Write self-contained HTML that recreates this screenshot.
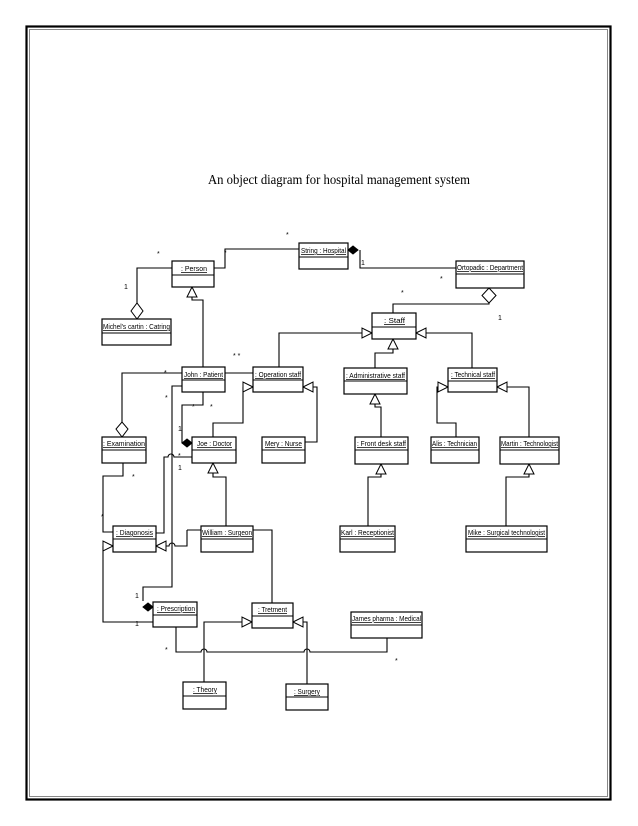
<!DOCTYPE html>
<html><head><meta charset="utf-8"><style>
html,body{margin:0;padding:0;background:#fff;width:638px;height:826px;overflow:hidden}
svg{display:block}
.b{fill:#fff;stroke:#000;stroke-width:1.2}
.l{fill:none;stroke:#000;stroke-width:1.1}
.t{fill:#fff;stroke:#000;stroke-width:1}
.d{fill:#000;stroke:#000;stroke-width:1}
.lb{font-family:"Liberation Sans",sans-serif;font-size:7.5px;text-decoration:underline;fill:#000}
.m{font-family:"Liberation Sans",sans-serif;font-size:7px;fill:#000}
</style></head><body>
<svg width="638" height="826" viewBox="0 0 638 826" xmlns="http://www.w3.org/2000/svg">
<rect x="26.5" y="26.5" width="584" height="773" fill="none" stroke="#000" stroke-width="2.2"/>
<rect x="29.5" y="29.5" width="578" height="767" fill="none" stroke="#888" stroke-width="1"/>
<text x="208" y="184" font-family="Liberation Serif,serif" font-size="14" textLength="262" lengthAdjust="spacingAndGlyphs">An object diagram for hospital management system</text>

<!-- connectors -->
<polyline class="l" points="214,268 225,268 225,249 299,249"/>
<polyline class="l" points="360,250 360,268 456,268"/>
<polyline class="l" points="137,303 137,268 172,268"/>
<polyline class="l" points="192,297 192,300 203,300 203,367"/>
<polyline class="l" points="225,373 253,373"/>
<polyline class="l" points="182,373 122,373 122,422"/>
<polyline class="l" points="279,367 279,333 362,333"/>
<polyline class="l" points="213,437 213,423 243,423 243,387"/>
<polyline class="l" points="305,442 317,442 317,387 313,387"/>
<polyline class="l" points="203,392 203,405 182,405 182,443"/>
<polyline class="l" points="182,386 172,386 172,587 143,587 143,601"/>
<path class="l" d="M192,457 L174,457 A3,3 0 0 0 168,457 L164,457 L164,533 L156,533"/>
<polyline class="l" points="123,463 123,476 103,476 103,532 113,532"/>
<polyline class="l" points="153,622 103,622 103,546"/>
<polyline class="l" points="187,530 272,530 272,603"/>
<path class="l" d="M187,530 L187,546 L175,546 A3,3 0 0 0 169,546 L166,546"/>
<polyline class="l" points="213,473 213,477 226,477 226,526"/>
<polyline class="l" points="204,682 204,622 242,622"/>
<polyline class="l" points="307,684 307,622 303,622"/>
<path class="l" d="M176,627 L176,652 L201,652 A3,3 0 0 1 207,652 L304,652 A3,3 0 0 1 310,652 L387,652 L387,638"/>
<polyline class="l" points="489,303 489,304 393,304 393,313"/>
<polyline class="l" points="426,333 472,333 472,368"/>
<polyline class="l" points="393,349 393,353 375,353 375,368"/>
<polyline class="l" points="375,404 375,407 381,407 381,437"/>
<polyline class="l" points="456,437 456,423 437,423 437,387 438,387"/>
<polyline class="l" points="529,437 529,387 507,387"/>
<polyline class="l" points="368,526 368,477 381,477 381,474"/>
<polyline class="l" points="506,526 506,477 529,477 529,474"/>

<!-- arrowheads -->
<polygon class="t" points="192,287 187,297 197,297"/>
<polygon class="t" points="372,333 362,328 362,338"/>
<polygon class="t" points="416,333 426,328 426,338"/>
<polygon class="t" points="393,339 388,349 398,349"/>
<polygon class="t" points="253,387 243,382 243,392"/>
<polygon class="t" points="303,387 313,382 313,392"/>
<polygon class="t" points="375,394 370,404 380,404"/>
<polygon class="t" points="448,387 438,382 438,392"/>
<polygon class="t" points="497,387 507,382 507,392"/>
<polygon class="t" points="381,464 376,474 386,474"/>
<polygon class="t" points="529,464 524,474 534,474"/>
<polygon class="t" points="213,463 208,473 218,473"/>
<polygon class="t" points="113,546 103,541 103,551"/>
<polygon class="t" points="156,546 166,541 166,551"/>
<polygon class="t" points="252,622 242,617 242,627"/>
<polygon class="t" points="293,622 303,617 303,627"/>
<polygon class="t" points="137,319 131,311 137,303 143,311"/>
<polygon class="t" points="122,437 116,429 122,422 128,429"/>
<polygon class="t" points="489,288 482,295.5 489,303 496,295.5"/>
<polygon class="d" points="348,250 353,246 358,250 353,254"/>
<polygon class="d" points="182,443 187,439 192,443 187,447"/>
<polygon class="d" points="143,607 148,603 153,607 148,611"/>

<!-- boxes -->
<g>
<rect class="b" x="299" y="243" width="49" height="26"/><line class="l" x1="299" y1="257" x2="348" y2="257"/>
<text class="lb" x="301" y="253" textLength="45" lengthAdjust="spacingAndGlyphs">String : Hospital</text>
<rect class="b" x="172" y="261" width="42" height="26"/><line class="l" x1="172" y1="275" x2="214" y2="275"/>
<text class="lb" x="181" y="271" textLength="26" lengthAdjust="spacingAndGlyphs">: Person</text>
<rect class="b" x="102" y="319" width="69" height="26"/><line class="l" x1="102" y1="333" x2="171" y2="333"/>
<text class="lb" x="103" y="329" textLength="67" lengthAdjust="spacingAndGlyphs">Michel's cartin : Catring</text>
<rect class="b" x="456" y="261" width="68" height="27"/><line class="l" x1="456" y1="274" x2="524" y2="274"/>
<text class="lb" x="457" y="270" textLength="66" lengthAdjust="spacingAndGlyphs">Ortopadic : Department</text>
<rect class="b" x="372" y="313" width="44" height="26"/><line class="l" x1="372" y1="327" x2="416" y2="327"/>
<text class="lb" x="384" y="323" textLength="21" lengthAdjust="spacingAndGlyphs">: Staff</text>
<rect class="b" x="182" y="367" width="43" height="25"/><line class="l" x1="182" y1="380" x2="225" y2="380"/>
<text class="lb" x="184" y="377" textLength="39" lengthAdjust="spacingAndGlyphs">John : Patient</text>
<rect class="b" x="253" y="367" width="50" height="25"/><line class="l" x1="253" y1="380" x2="303" y2="380"/>
<text class="lb" x="255" y="377" textLength="46" lengthAdjust="spacingAndGlyphs">: Operation staff</text>
<rect class="b" x="344" y="368" width="63" height="26"/><line class="l" x1="344" y1="381" x2="407" y2="381"/>
<text class="lb" x="346" y="378" textLength="59" lengthAdjust="spacingAndGlyphs">: Administrative staff</text>
<rect class="b" x="448" y="368" width="49" height="24"/><line class="l" x1="448" y1="381" x2="497" y2="381"/>
<text class="lb" x="451" y="377" textLength="44" lengthAdjust="spacingAndGlyphs">: Technical staff</text>
<rect class="b" x="102" y="437" width="44" height="26"/><line class="l" x1="102" y1="450" x2="146" y2="450"/>
<text class="lb" x="103" y="446" textLength="42" lengthAdjust="spacingAndGlyphs">: Examination</text>
<rect class="b" x="192" y="437" width="44" height="26"/><line class="l" x1="192" y1="450" x2="236" y2="450"/>
<text class="lb" x="197" y="446" textLength="35" lengthAdjust="spacingAndGlyphs">Joe : Doctor</text>
<rect class="b" x="262" y="437" width="43" height="26"/><line class="l" x1="262" y1="450" x2="305" y2="450"/>
<text class="lb" x="265" y="446" textLength="37" lengthAdjust="spacingAndGlyphs">Mery : Nurse</text>
<rect class="b" x="355" y="437" width="53" height="27"/><line class="l" x1="355" y1="450" x2="408" y2="450"/>
<text class="lb" x="357" y="446" textLength="49" lengthAdjust="spacingAndGlyphs">: Front desk staff</text>
<rect class="b" x="431" y="437" width="48" height="26"/><line class="l" x1="431" y1="450" x2="479" y2="450"/>
<text class="lb" x="432" y="446" textLength="45" lengthAdjust="spacingAndGlyphs">Alis : Technician</text>
<rect class="b" x="500" y="437" width="59" height="27"/><line class="l" x1="500" y1="450" x2="559" y2="450"/>
<text class="lb" x="501" y="446" textLength="57" lengthAdjust="spacingAndGlyphs">Martin : Technologist</text>
<rect class="b" x="113" y="526" width="43" height="26"/><line class="l" x1="113" y1="539" x2="156" y2="539"/>
<text class="lb" x="116" y="535" textLength="37" lengthAdjust="spacingAndGlyphs">: Diagonosis</text>
<rect class="b" x="201" y="526" width="52" height="26"/><line class="l" x1="201" y1="539" x2="253" y2="539"/>
<text class="lb" x="202" y="535" textLength="50" lengthAdjust="spacingAndGlyphs">William : Surgeon</text>
<rect class="b" x="340" y="526" width="55" height="26"/><line class="l" x1="340" y1="539" x2="395" y2="539"/>
<text class="lb" x="341" y="535" textLength="53" lengthAdjust="spacingAndGlyphs">Karl : Receptionist</text>
<rect class="b" x="466" y="526" width="81" height="26"/><line class="l" x1="466" y1="539" x2="547" y2="539"/>
<text class="lb" x="468" y="535" textLength="77" lengthAdjust="spacingAndGlyphs">Mike : Surgical technologist</text>
<rect class="b" x="153" y="602" width="44" height="25"/><line class="l" x1="153" y1="615" x2="197" y2="615"/>
<text class="lb" x="157" y="611" textLength="38" lengthAdjust="spacingAndGlyphs">: Prescription</text>
<rect class="b" x="252" y="603" width="41" height="25"/><line class="l" x1="252" y1="616" x2="293" y2="616"/>
<text class="lb" x="258" y="612" textLength="29" lengthAdjust="spacingAndGlyphs">: Tretment</text>
<rect class="b" x="351" y="612" width="71" height="26"/><line class="l" x1="351" y1="625" x2="422" y2="625"/>
<text class="lb" x="352" y="621" textLength="69" lengthAdjust="spacingAndGlyphs">James pharma : Medical</text>
<rect class="b" x="183" y="682" width="43" height="27"/><line class="l" x1="183" y1="696" x2="226" y2="696"/>
<text class="lb" x="193" y="692" textLength="24" lengthAdjust="spacingAndGlyphs">: Theory</text>
<rect class="b" x="286" y="684" width="42" height="26"/><line class="l" x1="286" y1="697" x2="328" y2="697"/>
<text class="lb" x="294" y="694" textLength="26" lengthAdjust="spacingAndGlyphs">: Surgery</text>
</g>

<!-- multiplicities -->
<text class="m" x="286" y="237">*</text>
<text class="m" x="157" y="256">*</text>
<text class="m" x="224" y="255">*</text>
<text class="m" x="124" y="289">1</text>
<text class="m" x="361" y="265">1</text>
<text class="m" x="440" y="281">*</text>
<text class="m" x="401" y="295">*</text>
<text class="m" x="498" y="320">1</text>
<text class="m" x="233" y="358">*  *</text>
<text class="m" x="164" y="375">*</text>
<text class="m" x="165" y="400">*</text>
<text class="m" x="192" y="409">*</text>
<text class="m" x="210" y="409">*</text>
<text class="m" x="178" y="431">1</text>
<text class="m" x="178" y="458">*</text>
<text class="m" x="178" y="470">1</text>
<text class="m" x="132" y="479">*</text>
<text class="m" x="101" y="519">*</text>
<text class="m" x="135" y="598">1</text>
<text class="m" x="135" y="626">1</text>
<text class="m" x="165" y="652">*</text>
<text class="m" x="395" y="663">*</text>
</svg>
</body></html>
